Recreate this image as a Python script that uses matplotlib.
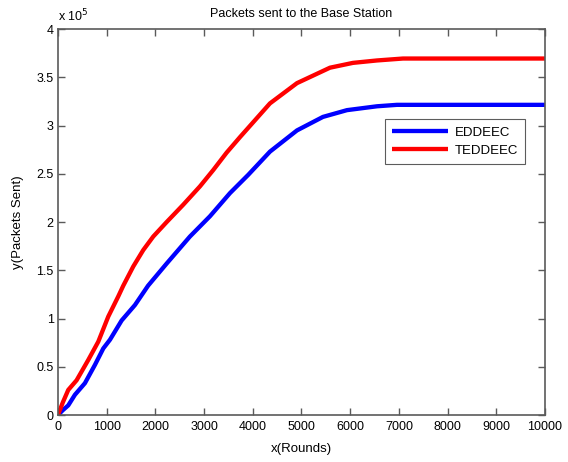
import matplotlib
matplotlib.use("Agg")
import matplotlib.pyplot as plt

plt.rcParams['font.family'] = ['Liberation Sans', 'DejaVu Sans']

# Packets delivered to the base station (in units of 1e5 packets)
eddeec_rounds = [0, 100, 212, 349, 554, 760, 931, 1068, 1308, 1581, 1850, 2232,
                 2710, 3121, 3532, 3908, 4353, 4908, 5441, 5934, 6550, 6960, 10000]
eddeec_packets = [0.0, 0.05, 0.10, 0.21, 0.33, 0.52, 0.69, 0.78, 0.98, 1.14, 1.34, 1.57,
                  1.85, 2.06, 2.30, 2.49, 2.73, 2.95, 3.09, 3.16, 3.20, 3.215, 3.215]

teddeec_rounds = [0, 100, 212, 383, 622, 828, 1033, 1239, 1341, 1547, 1752, 1957,
                  2232, 2573, 2916, 3190, 3464, 3737, 4353, 4908, 5585, 6057, 6550,
                  7084, 10000]
teddeec_packets = [0.0, 0.13, 0.26, 0.36, 0.57, 0.76, 1.02, 1.23, 1.34, 1.54, 1.71, 1.85,
                   2.00, 2.18, 2.37, 2.54, 2.72, 2.88, 3.23, 3.44, 3.60, 3.65, 3.675,
                   3.695, 3.695]

series_names = ['EDDEEC', 'TEDDEEC']
x_ticks = [0, 1000, 2000, 3000, 4000, 5000, 6000, 7000, 8000, 9000, 10000]
y_ticks = [0, 0.5, 1, 1.5, 2, 2.5, 3, 3.5, 4]
y_tick_labels = ['0', '0.5', '1', '1.5', '2', '2.5', '3', '3.5', '4']

fig = plt.figure(figsize=(5.68, 4.62), dpi=100)
ax = fig.add_axes([0.102, 0.1017, 0.8575, 0.8353])

ax.plot(eddeec_rounds, eddeec_packets, color='#0000ff', lw=3.1,
        solid_joinstyle='round', solid_capstyle='butt', label=series_names[0])
ax.plot(teddeec_rounds, teddeec_packets, color='#ff0000', lw=3.1,
        solid_joinstyle='round', solid_capstyle='butt', label=series_names[1])

ax.set_xlim(0, 10000)
ax.set_ylim(0, 4)
ax.set_xticks(x_ticks)
ax.set_xticklabels([str(t) for t in x_ticks])
ax.set_yticks(y_ticks)
ax.set_yticklabels(y_tick_labels)

axis_gray = '#5a5a5a'
for sp in ax.spines.values():
    sp.set_color(axis_gray)
    sp.set_linewidth(1.2)
ax.tick_params(direction='in', length=5, width=1.0, colors=axis_gray,
               labelcolor='black', labelsize=9, top=True, right=True)
ax.tick_params(axis='x', pad=4.5)
ax.tick_params(axis='y', pad=3)

ax.set_title('Packets sent to the Base Station', fontsize=9, pad=9)
ax.set_xlabel('x(Rounds)', fontsize=9.5, labelpad=7)
ax.set_ylabel('y(Packets Sent)', fontsize=9.5, labelpad=9)

ax.text(0.0, 1.012, r'x 10$^{5}$', transform=ax.transAxes, fontsize=9,
        ha='left', va='bottom')

leg = ax.legend(loc='upper right', bbox_to_anchor=(0.959, 0.766), fontsize=9.5,
                frameon=True, fancybox=False, handlelength=4.2, borderpad=0.55,
                labelspacing=0.45, handletextpad=0.5, borderaxespad=0)
leg.get_frame().set_edgecolor('#333333')
leg.get_frame().set_linewidth(0.8)

fig.savefig('out.png', dpi=100)
